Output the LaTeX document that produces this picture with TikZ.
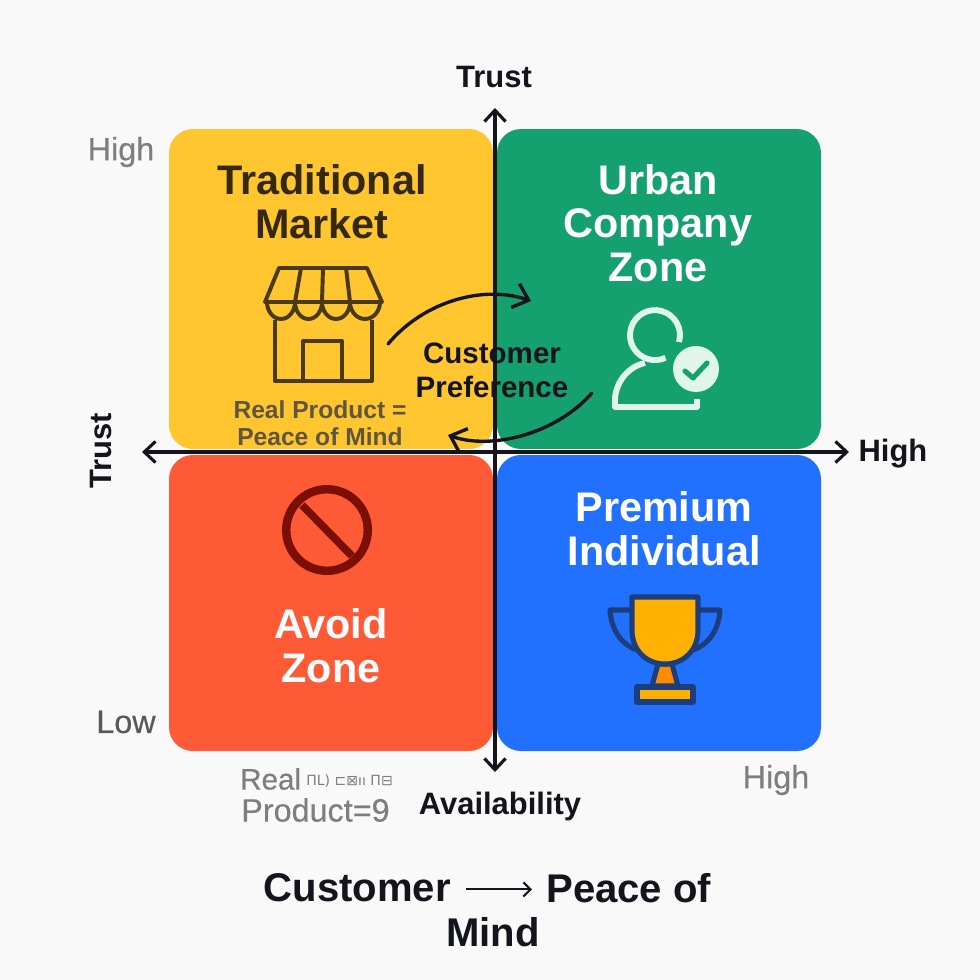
\documentclass[tikz,border=0pt]{standalone}
\usepackage{fontspec}
\setmainfont{Liberation Sans}
\newfontfamily\medfont[FakeBold=0.35]{Liberation Sans}
\newfontfamily\symfont{DejaVu Sans}
\usepackage{xcolor}
\usetikzlibrary{arrows.meta}
\definecolor{bgcol}{HTML}{F9F9F9}
\definecolor{yellowq}{HTML}{FFC62F}
\definecolor{greenq}{HTML}{14A06F}
\definecolor{redq}{HTML}{FF5A36}
\definecolor{blueq}{HTML}{2270FF}
\definecolor{inkcol}{HTML}{14141C}
\definecolor{shopcol}{HTML}{4A3A14}
\definecolor{greycol}{HTML}{7E7E7E}
\definecolor{personcol}{HTML}{E0F5EC}
\definecolor{cupcol}{HTML}{FFB000}
\definecolor{navycol}{HTML}{1C3F7C}
\definecolor{nocol}{HTML}{7A0F05}
\tikzset{
  quad/.style={fill=#1,rounded corners=17pt,minimum width=230.4pt,inner sep=0pt},
  qtitle/.style={font=\fontsize{29.4}{31}\selectfont\bfseries,align=center,text=#1},
  axis/.style={draw=inkcol,line width=2.2pt,{Straight Barb[length=8pt,width=15pt]}-{Straight Barb[length=8pt,width=15pt]}},
  axlabel/.style={font=\fontsize{22}{24}\selectfont\bfseries,text=inkcol},
  grade/.style={font=\medfont\fontsize{23}{25}\selectfont,text=greycol},
  sweep/.style={draw=inkcol,line width=2.4pt,line cap=round,-{Straight Barb[length=10pt,width=18pt]}},
}
\begin{document}
\begin{tikzpicture}[x=0.025cm,y=-0.025cm]
\useasboundingbox[fill=bgcol] (0,0) rectangle (980,980);
% quadrants
\node[quad=yellowq,minimum height=227.5pt] (trad) at (331,289) {};
\node[quad=greenq,minimum height=227.5pt] (urban) at (659,289) {};
\node[quad=redq,minimum height=210.5pt] (avoid) at (331,603) {};
\node[quad=blueq,minimum height=210.5pt] (premium) at (659,603) {};
% axes
\coordinate (top) at (495,108);
\coordinate (bottom) at (495,772);
\coordinate (left) at (142,452);
\coordinate (right) at (849,452);
\draw[axis] (bottom) -- (top);
\draw[axis] (left) -- (right);
% titles
\node[qtitle=shopcol!70!black] (tradtxt) at (322,202) {Traditional\\Market};
\node[qtitle=white] (urbantxt) at (658,223) {Urban\\Company\\Zone};
\node[qtitle=white] (avoidtxt) at (331,646) {Avoid\\Zone};
\node[qtitle=white] (premiumtxt) at (664,529) {Premium\\Individual};
% shop
\begin{scope}[draw=shopcol,line width=2.8pt,line join=round]
\draw (279,268) -- (367,268) -- (382,302) -- (265,302) -- cycle;
\draw (301,268) -- (295,302) (323,268) -- (322,302) (346,268) -- (350,302);
\draw (267,302) arc[start angle=180,end angle=0,x radius=14,y radius=17]
  arc[start angle=180,end angle=0,x radius=13.5,y radius=17]
  arc[start angle=180,end angle=0,x radius=14,y radius=17]
  arc[start angle=180,end angle=0,x radius=15,y radius=17];
\draw (275,320) -- (275,381) -- (372,381) -- (372,320);
\draw (303,381) -- (303,341) -- (342,341) -- (342,381);
\end{scope}
% person
\draw[personcol,line width=4.2pt] (679,342) arc[start angle=16,end angle=-295,radius=25];
\draw[personcol,line width=4.2pt,line join=round] (645,363) .. controls (626,367) and (615,385) .. (615,400) -- (615,407) -- (697,407) -- (697,399);
\node[circle,fill=personcol,minimum size=32.7pt,inner sep=0pt] (tick) at (696,369) {};
\draw[greenq,line width=3.6pt,line cap=round,line join=round] (685,371) -- (693,378) -- (707,363);
% no entry
\node[circle,draw=nocol,line width=6pt,minimum size=58pt,inner sep=0pt] (noentry) at (327,530) {};
\draw[nocol,line width=5.5pt] (302,505) -- (352,556);
% trophy
\begin{scope}[draw=navycol,line width=3.6pt,line join=round]
\draw (632,610) -- (610,610) .. controls (611,628) and (620,644) .. (637,650);
\draw (698,610) -- (720,610) .. controls (719,628) and (710,644) .. (693,650);
\draw[fill=orange!90!yellow] (658,664) -- (652,686) -- (678,686) -- (672,664) -- cycle;
\draw[fill=cupcol] (632,597) -- (698,597) -- (698,630) .. controls (698,650) and (684,664) .. (665,664) .. controls (646,664) and (632,650) .. (632,630) -- cycle;
\draw[fill=cupcol] (637,687) rectangle (693,702);
\end{scope}
% customer preference
\coordinate (prefa) at (388,344);
\coordinate (prefb) at (531,301);
\coordinate (prefc) at (592,393);
\coordinate (prefd) at (448,435);
\draw[sweep] (prefa) .. controls (425,300) and (485,285) .. (prefb);
\draw[sweep] (prefc) .. controls (555,435) and (490,450) .. (prefd);
\node[font=\fontsize{21}{24}\selectfont\bfseries,align=center,text=inkcol] (pref) at (492,370) {Customer\\Preference};
\node[font=\fontsize{17.5}{19.5}\selectfont\bfseries,align=center,text=shopcol!60!gray] (peace) at (320,423) {Real Product =\\Peace of Mind};
% axis labels
\node[axlabel] (trusttop) at (494,77) {Trust};
\node[axlabel,rotate=90] (trustleft) at (101,451) {Trust};
\node[axlabel] (highx) at (893,454) {High};
\node[axlabel] (avail) at (500,806) {Availability};
\node[grade] (hightl) at (121,152) {High};
\node[grade,text=gray!70!black] (lowl) at (126,722) {Low};
\node[grade] (highbr) at (776,780) {High};
\node[grade,font=\medfont\fontsize{21}{23}\selectfont,anchor=west,inner sep=0pt] (realtxt) at (240,779) {Real};
\node[anchor=west,inner sep=0pt,text=greycol,font=\symfont\fontsize{10}{12}\selectfont] (garble) at (306,781) {ΠL) ⊏⊠ıı Π⊟};
\node[grade,anchor=west,inner sep=0pt] (prodtxt) at (241,810) {Product=9};
% bottom line
\node[font=\fontsize{28.5}{30}\selectfont\bfseries,text=inkcol,anchor=east,inner sep=0pt] (cust) at (451,888) {Customer};
\node[font=\fontsize{28.5}{30}\selectfont\bfseries,text=inkcol,anchor=west,inner sep=0pt] (poftxt) at (546,888) {Peace of};
\node[font=\fontsize{28.5}{30}\selectfont\bfseries,text=inkcol,inner sep=0pt] (mind) at (493,932) {Mind};
\draw[inkcol,line width=1.5pt,-{Straight Barb[length=5pt,width=10pt]}] ([xshift=11pt,yshift=-1pt]cust.east) -- ([xshift=-10pt,yshift=-1pt]poftxt.west);
\end{tikzpicture}
\end{document}
